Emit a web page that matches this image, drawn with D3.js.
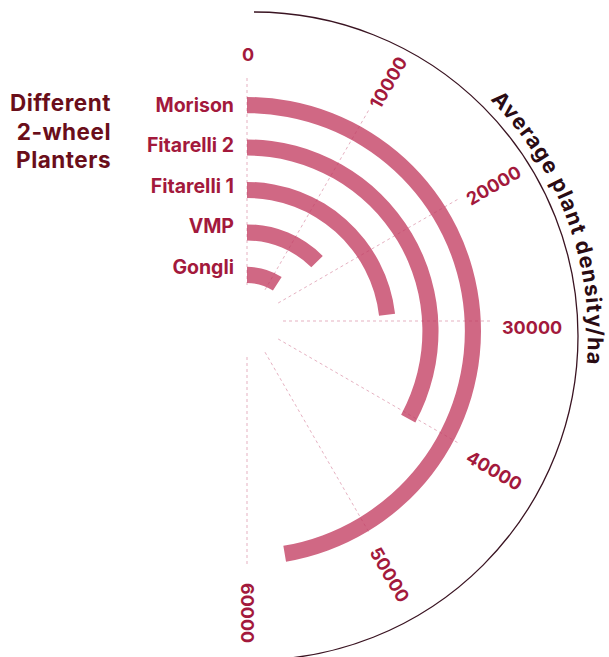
<!DOCTYPE html>
<html>
<head>
<meta charset="utf-8">
<script src="https://cdn.jsdelivr.net/npm/d3@7"></script>
<style>
  body { margin: 0; background: #fff; }
  text { font-family: Inter, "Open Sans", sans-serif; font-weight: 700; }
</style>
</head>
<body>
<svg id="chart"></svg>
<script>
// planters, outer bar first
var planters = ["Morison", "Fitarelli 2", "Fitarelli 1", "VMP", "Gongli"];
var density = [56800, 39500, 27800, 15100, 10900];
var ticks = [0, 10000, 20000, 30000, 40000, 50000, 60000];
var titleLines = ["Different", "2-wheel", "Planters"];
var axisTitle = "Average plant density/ha";

var data = planters.map((p, i) => ({ name: p, value: density[i] }));

var svg = d3.select("#chart")
    .attr("width", 609)
    .attr("height", 657);

var angle = d3.scaleLinear().domain([0, 60000]).range([0, Math.PI]);
var radius = d3.scaleBand()
    .domain(planters.slice().reverse())
    .range([48, 234])
    .paddingInner(0.62)
    .paddingOuter(0);
var labelY = d3.scalePoint().domain(planters).range([105, 267]);

// outer boundary arc + axis title
var outer = svg.append("g").attr("transform", "translate(254,336)");
var R = 324;
outer.append("path")
    .attr("d", d3.arc()({ innerRadius: R, outerRadius: R, startAngle: 0, endAngle: Math.PI }))
    .attr("fill", "none")
    .attr("stroke", "#3a1422")
    .attr("stroke-width", 1.3);

var rt = 334;
outer.append("path")
    .attr("id", "titlePath")
    .attr("d", `M0,${-rt} A${rt},${rt} 0 0 1 0,${rt}`)
    .attr("fill", "none");
outer.append("text")
    .attr("font-size", 21.5)
    .attr("letter-spacing", 1.2)
    .attr("fill", "#2a0b13")
    .append("textPath")
    .attr("href", "#titlePath")
    .attr("startOffset", rt * Math.PI / 4)
    .text(axisTitle);

// bars
var bars = svg.append("g").attr("transform", "translate(247,331)");
var arc = d3.arc()
    .innerRadius(d => radius(d.name))
    .outerRadius(d => radius(d.name) + radius.bandwidth())
    .startAngle(0)
    .endAngle(d => angle(d.value));

bars.selectAll(".bar")
    .data(data)
    .enter().append("path")
    .attr("class", "bar")
    .attr("d", arc)
    .attr("fill", "#d06884");

// grid lines
var grid = svg.append("g").attr("transform", "translate(247,321)");
grid.selectAll(".grid")
    .data(ticks)
    .enter().append("line")
    .attr("class", "grid")
    .attr("x1", d => 36 * Math.sin(angle(d)))
    .attr("y1", d => -36 * Math.cos(angle(d)))
    .attr("x2", d => 246 * Math.sin(angle(d)))
    .attr("y2", d => -246 * Math.cos(angle(d)))
    .attr("stroke", "rgba(190,60,100,0.4)")
    .attr("stroke-width", 1)
    .attr("stroke-dasharray", "3,3");

// tick labels
var tickG = svg.append("g").attr("transform", "translate(247,328)");
tickG.selectAll(".tick")
    .data(ticks)
    .enter().append("text")
    .attr("class", "tick")
    .attr("font-size", 18)
    .attr("fill", "#a3193c")
    .attr("text-anchor", d => d === 0 ? "middle" : "start")
    .attr("dy", "0.35em")
    .attr("transform", d => {
        if (d === 0) return "translate(1,-273)";
        var a = angle(d);
        var deg = a * 180 / Math.PI - 90;
        return `translate(${255 * Math.sin(a)},${-255 * Math.cos(a)}) rotate(${deg})`;
    })
    .text(d => d);

// planter labels
svg.selectAll(".label")
    .data(planters)
    .enter().append("text")
    .attr("class", "label")
    .attr("x", 234)
    .attr("y", d => labelY(d))
    .attr("dy", "0.35em")
    .attr("text-anchor", "end")
    .attr("font-size", 19.5)
    .attr("fill", "#a3193c")
    .text(d => d);

// left title
svg.append("text")
    .attr("text-anchor", "end")
    .attr("font-size", 22.5)
    .attr("letter-spacing", 0.5)
    .attr("fill", "#6a0e1a")
    .selectAll("tspan")
    .data(titleLines)
    .enter().append("tspan")
    .attr("x", 111)
    .attr("y", (d, i) => 111 + i * 28.6)
    .text(d => d);
</script>
</body>
</html>
